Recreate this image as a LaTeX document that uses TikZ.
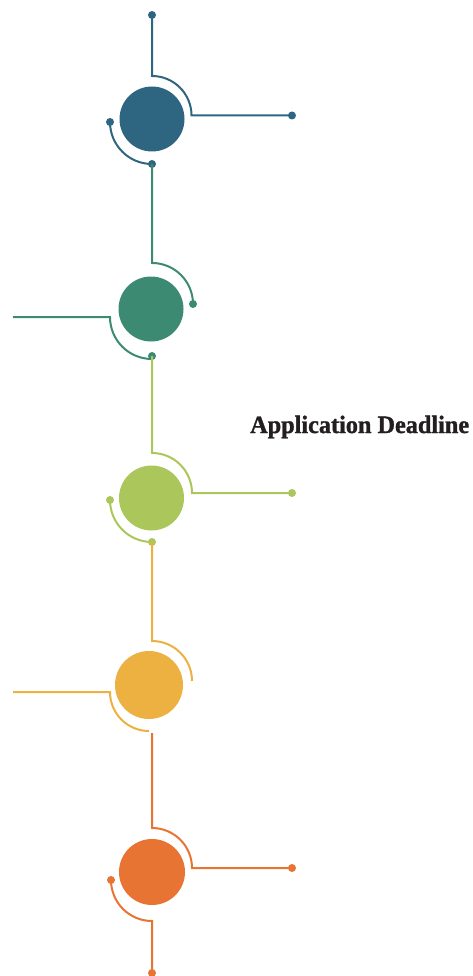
\documentclass[tikz,border=0pt]{standalone}
\usepackage{fontspec}
\setmainfont{Liberation Serif}
\newfontfamily\titlefont[BoldFeatures={FakeBold=1.3}]{Liberation Serif}
\definecolor{cblue}{HTML}{2E6580}
\definecolor{cgreen}{HTML}{3D8A73}
\definecolor{clime}{HTML}{ABC65A}
\definecolor{cyellow}{HTML}{EDB142}
\definecolor{corange}{HTML}{E87434}
\definecolor{ctext}{HTML}{231F20}
\begin{document}
\begin{tikzpicture}[x=1pt,y=1pt,
  wire/.style={line width=2pt},
  disc/.style={circle,inner sep=0pt,minimum size=#1}]
\useasboundingbox (0,0) rectangle (472,-976);
% ---------- blue ----------
\node[disc=65pt,fill=cblue] (c1) at (152,-119) {};
\coordinate (b1top) at (152,-15);
\coordinate (b1r) at (292,-115.5);
\coordinate (b1l) at (110,-122);
\coordinate (b1b) at (152,-164);
\draw[wire,cblue] (b1top) -- (152,-76) arc[start angle=90,end angle=0,radius=39.5] -- (b1r);
\draw[wire,cblue] (b1l) arc[start angle=180,end angle=270,radius=42];
\fill[cblue] (b1top) circle[radius=4] (b1r) circle[radius=4] (b1l) circle[radius=4] (b1b) circle[radius=4];
% ---------- green ----------
\node[disc=65pt,fill=cgreen] (c2) at (151,-309) {};
\coordinate (b2r) at (193,-304);
\coordinate (b2l) at (13,-317);
\coordinate (b2b) at (152,-356);
\draw[wire,cgreen] (b1b) -- (152,-263) arc[start angle=90,end angle=0,radius=41];
\draw[wire,cgreen] (b2l) -- (110,-317) arc[start angle=180,end angle=270,radius=42] -- (b2b);
\fill[cgreen] (b2r) circle[radius=4] (b2b) circle[radius=4];
% ---------- lime ----------
\node[disc=65pt,fill=clime] (c3) at (151.5,-498) {};
\coordinate (b3r) at (292,-493);
\coordinate (b3l) at (110,-500);
\coordinate (b3b) at (152,-542);
\draw[wire,clime] (b2b) -- (152,-453) arc[start angle=90,end angle=0,radius=40] -- (b3r);
\draw[wire,clime] (b3l) arc[start angle=180,end angle=270,radius=42];
\fill[clime] (b3r) circle[radius=4] (b3l) circle[radius=4] (b3b) circle[radius=4];
% ---------- yellow ----------
\node[disc=68pt,fill=cyellow] (c4) at (149,-685) {};
\coordinate (b4l) at (13,-692);
\draw[wire,cyellow] (b3b) -- (152,-641) arc[start angle=90,end angle=0,radius=40];
\draw[wire,cyellow] (b4l) -- (110,-692) arc[start angle=180,end angle=270,radius=39];
% ---------- orange ----------
\node[disc=66pt,fill=corange] (c5) at (152,-872) {};
\coordinate (b5t) at (152,-733);
\coordinate (b5r) at (292,-868);
\coordinate (b5l) at (111,-880);
\coordinate (b5b) at (152,-973);
\draw[wire,corange] (b5t) -- (152,-828) arc[start angle=90,end angle=0,radius=40] -- (b5r);
\draw[wire,corange] (b5l) arc[start angle=180,end angle=270,radius=41] -- (b5b);
\fill[corange] (b5r) circle[radius=4] (b5l) circle[radius=4] (b5b) circle[radius=4];
% ---------- title ----------
\node[anchor=base west,inner sep=0pt,text=ctext,font=\titlefont\fontsize{25}{25}\selectfont\bfseries,xscale=0.97] (title) at (250,-433) {Application Deadline};
\end{tikzpicture}
\end{document}
